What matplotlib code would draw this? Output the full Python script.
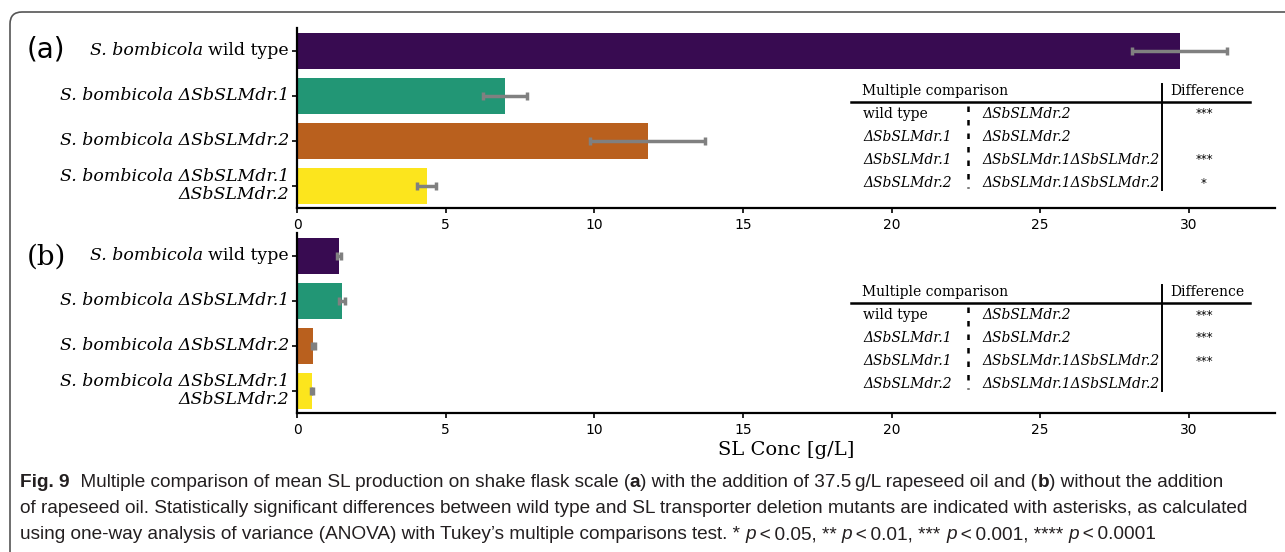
import numpy as np
import matplotlib.pyplot as plt
from matplotlib.patches import FancyBboxPatch
from matplotlib.text import Annotation
from matplotlib.transforms import IdentityTransform

# --- data -------------------------------------------------------------
strains = ["wild type", "ΔSbSLMdr.1", "ΔSbSLMdr.2", "ΔSbSLMdr.1\nΔSbSLMdr.2"]
conc_oil = [29.7, 7.0, 11.8, 4.37]
err_oil = [1.6, 0.75, 1.93, 0.32]
conc_nooil = [1.41, 1.51, 0.54, 0.50]
err_nooil = [0.08, 0.10, 0.05, 0.03]

cmp_left = ["wild type", "ΔSbSLMdr.1", "ΔSbSLMdr.1", "ΔSbSLMdr.2"]
cmp_right = ["ΔSbSLMdr.2", "ΔSbSLMdr.2", "ΔSbSLMdr.1ΔSbSLMdr.2", "ΔSbSLMdr.1ΔSbSLMdr.2"]
diff_oil = ["***", "", "***", "*"]
diff_nooil = ["***", "***", "***", ""]

kleuren = ["#380b51", "#229675", "#b9601e", "#fce51d"]
serif = "DejaVu Serif"
capfont = ["Liberation Sans Narrow", "Liberation Sans"]

W, H = 1285, 552
fig = plt.figure(figsize=(W / 100, H / 100), dpi=100)

# rounded frame around the whole figure
rand = FancyBboxPatch((10, -60), 1400, H - 12 + 60, boxstyle="round,pad=0,rounding_size=12",
                      transform=IdentityTransform(), fill=False, edgecolor="#555555", lw=1.2)
fig.add_artist(rand)

ax_a = fig.add_axes([297 / W, 1 - 208 / H, 978 / W, 180 / H])
ax_b = fig.add_axes([297 / W, 1 - 413 / H, 978 / W, 180 / H], sharex=ax_a)


def teken_panel(ax, waarden, fouten, verschil, letter, letterfont, ly, tdy):
    pos = np.arange(len(waarden))
    ax.barh(pos, waarden, height=0.8, color=kleuren, xerr=fouten,
            error_kw=dict(ecolor="grey", elinewidth=2.5, capsize=3, capthick=2.5))
    ax.set_ylim(3.5, -0.5)
    ax.set_xlim(0, 32.9)
    ax.set_xticks([0, 5, 10, 15, 20, 25, 30])
    ax.set_yticks(pos)
    ax.set_yticklabels([""] * len(pos))
    for s in ["top", "right"]:
        ax.spines[s].set_visible(False)
    for s in ["left", "bottom"]:
        ax.spines[s].set_linewidth(1.6)
    ax.tick_params(length=3.5, width=1.2, labelsize=10)

    # y labels, species part in italic
    tr = ax.get_yaxis_transform()
    xl = -8 / 978
    t = ax.text(xl, 0, "wild type", transform=tr, ha="right", va="center",
                family=serif, fontsize=12.5, clip_on=False)
    ann = Annotation("S. bombicola ", xy=(0, 0), xycoords=t, ha="right", va="bottom",
                     family=serif, style="italic", fontsize=12.5, annotation_clip=False)
    ax.add_artist(ann)
    ann.set_clip_on(False)
    for i in range(1, len(strains)):
        ax.text(xl, i, "S. bombicola " + strains[i], transform=tr, ha="right", va="center",
                family=serif, style="italic", fontsize=12.5, multialignment="right",
                linespacing=1.05)

    fig.text(27 / W, 1 - ly / H, letter, family=letterfont, fontsize=20, va="center")

    # comparison table
    fx = lambda px: (px - 297) / 978
    fy = lambda py: (208 - py + tdy) / 180
    kw = dict(transform=ax.transAxes, va="center", clip_on=False)
    lkw = dict(transform=ax.transAxes, clip_on=False, color="black")
    ax.text(fx(862), fy(91), "Multiple comparison", family=serif, fontsize=10, **kw)
    ax.text(fx(1170), fy(91), "Difference", family=serif, fontsize=10, **kw)
    ax.plot([fx(851), fx(1250)], [fy(102), fy(102)], lw=1.8, **lkw)
    ax.plot([fx(1162), fx(1162)], [fy(84), fy(190)], lw=1.4, **lkw)
    ax.plot([fx(968), fx(968)], [fy(106), fy(188)], lw=1.8,
            linestyle=(0, (2.2, 3.2)), **lkw)
    rij_y = [114, 137, 160, 183]
    for i in range(len(cmp_left)):
        stijl = "normal" if cmp_left[i] == "wild type" else "italic"
        ax.text(fx(863), fy(rij_y[i]), cmp_left[i], family=serif, style=stijl, fontsize=10, **kw)
        ax.text(fx(982), fy(rij_y[i]), cmp_right[i], family=serif, style="italic", fontsize=10, **kw)
        ax.text(fx(1204), fy(rij_y[i]), verschil[i], ha="center", fontsize=8.5, **kw)


teken_panel(ax_a, conc_oil, err_oil, diff_oil, "(a)", "DejaVu Sans", 49, 0)
teken_panel(ax_b, conc_nooil, err_nooil, diff_nooil, "(b)", serif, 257, 4)

fig.text(786 / W, 1 - 450 / H, "SL Conc [g/L]", family=serif, fontsize=14, ha="center", va="center")


# caption with mixed styles, segments chained one after the other
def bijschrift(y_px, stukken, fs=13.7):
    t = fig.text(20 / W, 1 - y_px / H, stukken[0][0], family=capfont, fontsize=fs,
                 fontweight="bold" if stukken[0][1] == "b" else "normal",
                 style="italic" if stukken[0][1] == "i" else "normal",
                 va="baseline", color="#231f20")
    for s, st in stukken[1:]:
        a = Annotation(s, xy=(1, 0), xycoords=t, ha="left", va="bottom", family=capfont,
                       fontsize=fs, fontweight="bold" if st == "b" else "normal",
                       style="italic" if st == "i" else "normal", color="#231f20")
        fig.add_artist(a)
        t = a


bijschrift(487, [("Fig. 9", "b"),
                 ("  Multiple comparison of mean SL production on shake flask scale (", "n"),
                 ("a", "b"), (") with the addition of 37.5\u2009g/L rapeseed oil and (", "n"),
                 ("b", "b"), (") without the addition", "n")])
bijschrift(513, [("of rapeseed oil. Statistically significant differences between wild type and SL "
                  "transporter deletion mutants are indicated with asterisks, as calculated", "n")])
bijschrift(539, [("using one-way analysis of variance (ANOVA) with Tukey’s multiple comparisons test. * ", "n"),
                 ("p", "i"), ("\u2009<\u20090.05, ** ", "n"), ("p", "i"), ("\u2009<\u20090.01, *** ", "n"),
                 ("p", "i"), ("\u2009<\u20090.001, **** ", "n"), ("p", "i"), ("\u2009<\u20090.0001", "n")])

fig.savefig("out.png", dpi=100)
